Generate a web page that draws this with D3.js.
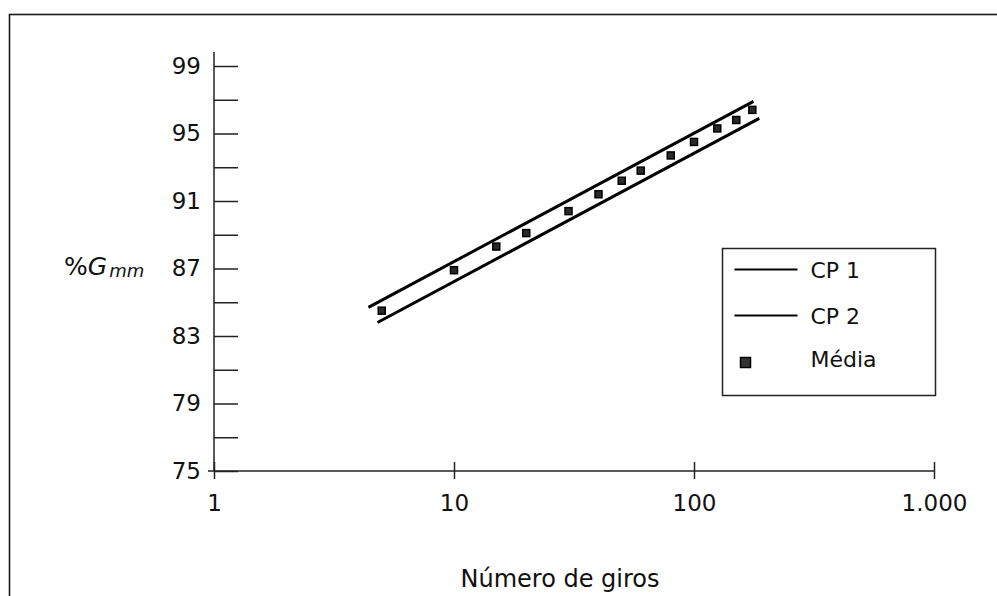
<!DOCTYPE html>
<html>
<head>
<meta charset="utf-8">
<script src="https://cdn.jsdelivr.net/npm/d3@7"></script>
<style>
  body { margin: 0; background: #fff; }
  text { font-family: "DejaVu Sans", sans-serif; fill: #111; }
</style>
</head>
<body>
<div id="wrapper"></div>
<script>
// data
const giros = [5, 10, 15, 20, 30, 40, 50, 60, 80, 100, 125, 150, 175]
const media = [84.5, 86.9, 88.3, 89.1, 90.4, 91.4, 92.2, 92.8, 93.7, 94.5, 95.3, 95.8, 96.4]
const cp1Giros = [4.4, 177]
const cp1 = [84.7, 96.9]
const cp2Giros = [4.8, 187]
const cp2 = [83.8, 95.9]
const yTicks = [75, 77, 79, 81, 83, 85, 87, 89, 91, 93, 95, 97, 99]
const yTickLabels = [75, 79, 83, 87, 91, 95, 99]
const xTicks = [1, 10, 100, 1000]
const xTickLabels = ["1", "10", "100", "1.000"]
const legendNames = ["CP 1", "CP 2", "Média"]

const dimensions = {
  width: 997,
  height: 596,
  margin: { top: 66, right: 63, bottom: 125, left: 214 }
}
dimensions.boundedWidth = dimensions.width - dimensions.margin.left - dimensions.margin.right
dimensions.boundedHeight = dimensions.height - dimensions.margin.top - dimensions.margin.bottom

const wrapper = d3.select("#wrapper")
  .append("svg")
  .attr("width", dimensions.width)
  .attr("height", dimensions.height)

// open frame (right and bottom run off the page)
wrapper.append("rect")
  .attr("x", 9.5)
  .attr("y", 14.5)
  .attr("width", 1100)
  .attr("height", 700)
  .attr("fill", "none")
  .attr("stroke", "#1a1a1a")
  .attr("stroke-width", 1.6)

const bounds = wrapper.append("g")
  .attr("transform", `translate(${dimensions.margin.left},${dimensions.margin.top})`)

const xScale = d3.scaleLog()
  .domain([1, 1000])
  .range([0, dimensions.boundedWidth])

const yScale = d3.scaleLinear()
  .domain([75, 99])
  .range([dimensions.boundedHeight, 0])

// y axis: ticks point inwards, labels every 4
const yAxisGenerator = d3.axisLeft(yScale)
  .tickValues(yTicks)
  .tickSizeInner(-24)
  .tickSizeOuter(0)
  .tickPadding(13)
  .tickFormat(d => yTickLabels.includes(d) ? d : "")

const yAxis = bounds.append("g").call(yAxisGenerator)
yAxis.select(".domain").remove()
yAxis.append("line")
  .attr("x1", 0).attr("x2", 0)
  .attr("y1", yScale(99) - 14)
  .attr("y2", yScale(75))
  .attr("stroke", "#222")
  .attr("stroke-width", 1.5)
yAxis.selectAll(".tick line").attr("stroke", "#222").attr("stroke-width", 1.5)
yAxis.selectAll(".tick text")
  .style("font-size", "23px")
  .style("font-family", "DejaVu Sans")
  .attr("fill", "#111")

// x axis: log, ticks cross the line
const xAxisGenerator = d3.axisBottom(xScale)
  .tickValues(xTicks)
  .tickSizeInner(8)
  .tickSizeOuter(0)
  .tickPadding(16)
  .tickFormat((d, i) => xTickLabels[i])

const xAxis = bounds.append("g")
  .attr("transform", `translate(0,${dimensions.boundedHeight})`)
  .call(xAxisGenerator)
xAxis.select(".domain").remove()
xAxis.append("line")
  .attr("x1", -6).attr("x2", dimensions.boundedWidth)
  .attr("y1", 0).attr("y2", 0)
  .attr("stroke", "#222")
  .attr("stroke-width", 1.5)
xAxis.selectAll(".tick line")
  .attr("y1", -9)
  .attr("stroke", "#222")
  .attr("stroke-width", 1.5)
xAxis.selectAll(".tick text")
  .style("font-size", "23px")
  .style("font-family", "DejaVu Sans")
  .attr("fill", "#111")

// lines CP 1 and CP 2
const lineGenerator = d3.line()
  .x(d => xScale(d[0]))
  .y(d => yScale(d[1]))

bounds.append("path")
  .attr("d", lineGenerator(d3.zip(cp1Giros, cp1)))
  .attr("fill", "none")
  .attr("stroke", "#000")
  .attr("stroke-width", 3)

bounds.append("path")
  .attr("d", lineGenerator(d3.zip(cp2Giros, cp2)))
  .attr("fill", "none")
  .attr("stroke", "#000")
  .attr("stroke-width", 3)

// média points
const markerSize = 7
bounds.selectAll(".media")
  .data(d3.zip(giros, media))
  .join("rect")
  .attr("class", "media")
  .attr("x", d => xScale(d[0]) - markerSize / 2)
  .attr("y", d => yScale(d[1]) - markerSize / 2)
  .attr("width", markerSize)
  .attr("height", markerSize)
  .attr("fill", "#2a2a2a")
  .attr("stroke", "#000")
  .attr("stroke-width", 1.5)

// axis labels
wrapper.append("text")
  .attr("x", dimensions.margin.left + xScale(10) + 106)
  .attr("y", 587)
  .attr("text-anchor", "middle")
  .style("font-size", "24px")
  .text("Número de giros")

const yLabel = wrapper.append("text")
  .attr("x", 64)
  .attr("y", 275)
  .style("font-size", "25px")
yLabel.append("tspan").text("%")
yLabel.append("tspan").style("font-style", "italic").text("G")
yLabel.append("tspan")
  .attr("dy", 2)
  .attr("dx", 2)
  .style("font-size", "18px")
  .style("font-style", "italic")
  .text("mm")

// legend
const legend = wrapper.append("g")
  .attr("transform", "translate(722.5,248.5)")

legend.append("rect")
  .attr("width", 213)
  .attr("height", 147)
  .attr("fill", "#fff")
  .attr("stroke", "#222")
  .attr("stroke-width", 1.5)

const legendRows = [21, 67, 114]
legendNames.forEach((name, i) => {
  const row = legend.append("g").attr("transform", `translate(0,${legendRows[i]})`)
  if (i < 2) {
    row.append("line")
      .attr("x1", 12).attr("x2", 75)
      .attr("stroke", "#000")
      .attr("stroke-width", 2)
  } else {
    row.append("rect")
      .attr("x", 18).attr("y", -5)
      .attr("width", 10).attr("height", 10)
      .attr("fill", "#333")
      .attr("stroke", "#000")
      .attr("stroke-width", 1.5)
  }
  row.append("text")
    .attr("x", 88)
    .attr("y", i < 2 ? 8 : 4)
    .style("font-size", "22px")
    .text(name)
})
</script>
</body>
</html>
